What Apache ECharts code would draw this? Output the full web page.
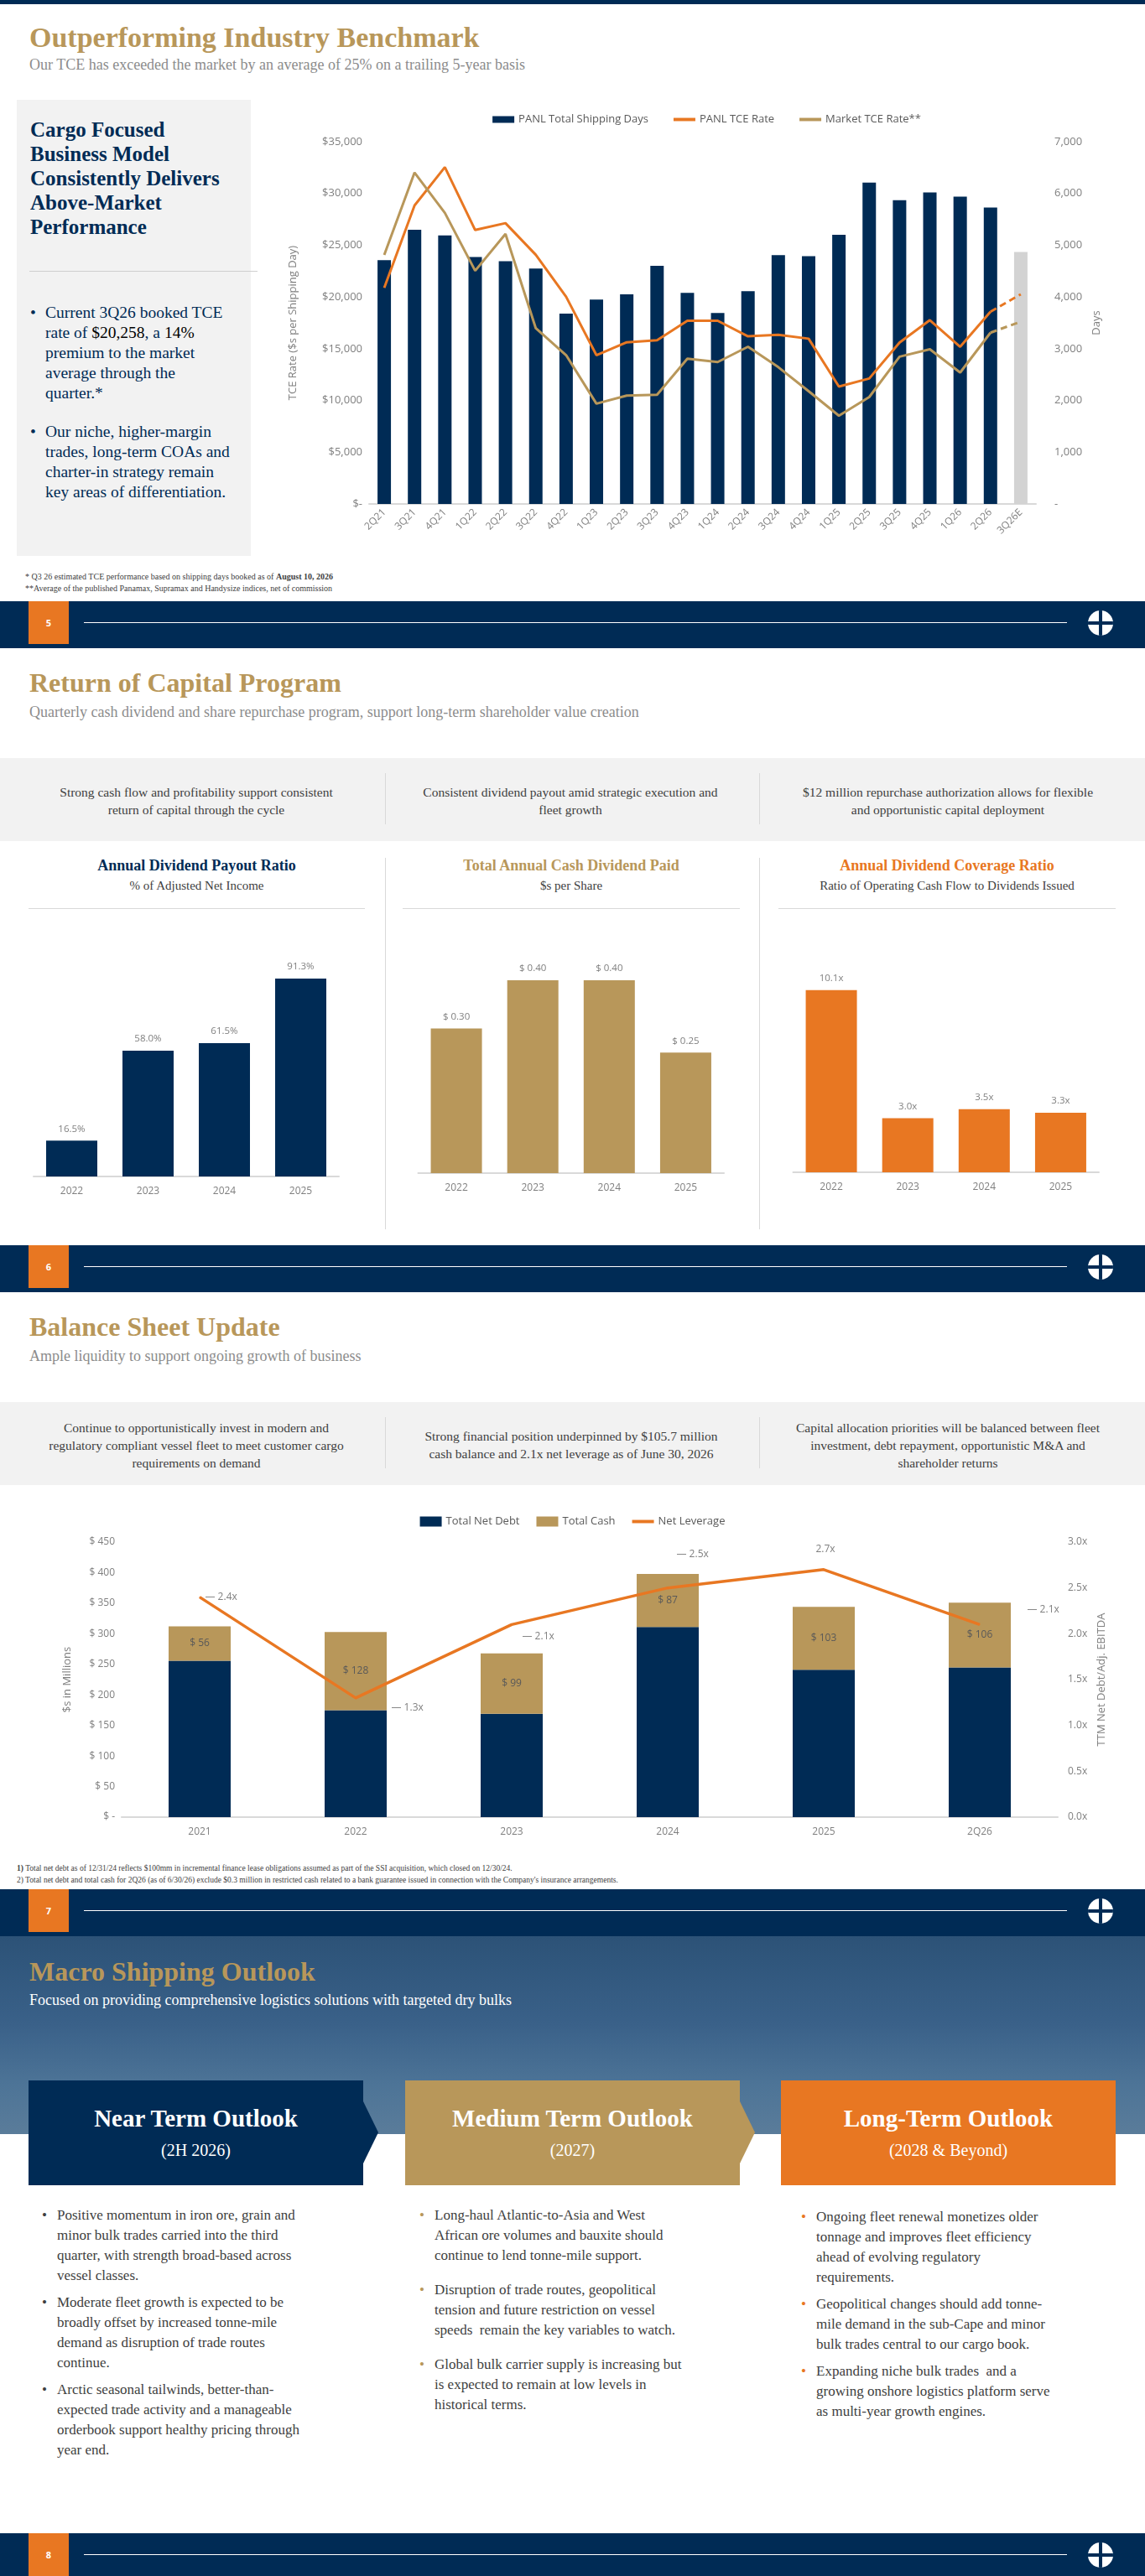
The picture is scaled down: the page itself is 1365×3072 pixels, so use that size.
<!DOCTYPE html>
<html><head><meta charset="utf-8">
<script src="https://cdn.jsdelivr.net/npm/echarts@6/dist/echarts.min.js"></script>
<style>
body{margin:0;background:#fff;}
#page{position:relative;width:1365px;height:3072px;overflow:hidden;font-family:"Liberation Serif",serif;}
.abs{position:absolute;}
.navy{background:#002b55;}
.title{position:absolute;left:35px;color:#b8975a;font-weight:bold;font-size:32px;line-height:36px;}
.sub{position:absolute;left:35px;color:#8c8c8c;font-size:18px;line-height:22px;}
.band{position:absolute;left:0;width:1365px;background:#f2f2f2;}
.bt{position:absolute;text-align:center;font-size:15.5px;line-height:21px;color:#404040;}
.vd{position:absolute;width:1px;background:#d9d9d9;}
.ct{position:absolute;text-align:center;font-weight:bold;font-size:18px;}
.cs{position:absolute;text-align:center;font-size:15px;color:#404040;}
.hl{position:absolute;height:1px;background:#d9d9d9;}
.foot{position:absolute;left:0;width:1365px;height:51px;background:#002b55;}
.foot .num{position:absolute;left:34px;top:0;width:48px;height:51px;background:#e87722;color:#fff;font:bold 11px "Open Sans",sans-serif;text-align:center;line-height:51px;}
.foot .ln{position:absolute;left:100px;top:25px;width:1172px;height:1px;background:#fff;}
.foot .logo{position:absolute;left:1297px;top:11px;width:30px;height:30px;border-radius:50%;background:#fff;overflow:hidden;}
.logo i{position:absolute;background:#002b55;}
.chart{position:absolute;}
.bul{position:absolute;font-size:17px;line-height:24px;color:#404040;}
.bul div{position:relative;padding-left:18px;}
.bul div:before{content:"•";position:absolute;left:0;}
.gold div:before{color:#b8975a;} .org div:before{color:#e87722;}
.box{position:absolute;top:2481px;height:125px;width:399px;color:#fff;text-align:center;}
.box .h{font-size:29px;font-weight:bold;margin-top:28px;line-height:34px;}
.box .s{font-size:20px;margin-top:10px;}
</style></head><body>
<div id="page">
<!-- slide 1 -->
<div class="abs navy" style="left:0;top:0;width:1365px;height:5px"></div>
<div class="title" style="top:27px;font-size:34px;">Outperforming Industry Benchmark</div>
<div class="sub" style="top:66px;">Our TCE has exceeded the market by an average of 25% on a trailing 5-year basis</div>
<div class="abs" style="left:20px;top:119px;width:279px;height:544px;background:#f2f2f2"></div>
<div class="abs" style="left:36px;top:140px;color:#002b55;font-weight:bold;font-size:25px;line-height:29px;">Cargo Focused<br>Business Model<br>Consistently Delivers<br>Above-Market<br>Performance</div>
<div class="hl" style="left:35px;top:323px;width:272px;background:#cfcfcf"></div>
<div class="bul" style="left:36px;top:361px;width:280px;font-size:19.5px;color:#002b55;">
<div>Current 3Q26 booked TCE<br>rate of <span style="color:#000">$20,258</span>, a <span style="color:#000">14%</span><br>premium to the market<br>average through the<br>quarter.*</div>
<div style="margin-top:22px">Our niche, higher-margin<br>trades, long-term COAs and<br>charter-in strategy remain<br>key areas of differentiation.</div>
</div>
<div class="abs" style="left:30px;top:681px;font-size:10px;line-height:14px;color:#404040">* Q3 26 estimated TCE performance based on shipping days booked as of <b>August 10, 2026</b><br>**Average of the published Panamax, Supramax and Handysize indices, net of commission</div>
<div id="c1" class="chart" style="left:320px;top:120px;width:1045px;height:560px"></div>
<div class="foot" style="top:717px"><div class="num">5</div><div class="ln"></div><div class="logo"><i style="left:13px;top:0;width:4px;height:30px"></i><i style="left:0;top:13px;width:30px;height:4px"></i></div></div>

<!-- slide 2 -->
<div class="abs navy" style="left:0;top:768px;width:1365px;height:5px"></div>
<div class="title" style="top:796px;">Return of Capital Program</div>
<div class="sub" style="top:838px;">Quarterly cash dividend and share repurchase program, support long-term shareholder value creation</div>
<div class="band" style="top:904px;height:99px"></div>
<div class="bt" style="left:44px;width:380px;top:934px">Strong cash flow and profitability support consistent<br>return of capital through the cycle</div>
<div class="bt" style="left:490px;width:380px;top:934px">Consistent dividend payout amid strategic execution and<br>fleet growth</div>
<div class="bt" style="left:935px;width:390px;top:934px">$12 million repurchase authorization allows for flexible<br>and opportunistic capital deployment</div>
<div class="vd" style="left:459px;top:922px;height:61px"></div><div class="vd" style="left:905px;top:922px;height:61px"></div>
<div class="vd" style="left:459px;top:1023px;height:443px"></div><div class="vd" style="left:905px;top:1023px;height:443px"></div>
<div class="ct" style="left:34px;width:401px;top:1022px;color:#002b55">Annual Dividend Payout Ratio</div>
<div class="ct" style="left:480px;width:402px;top:1022px;color:#b8975a">Total Annual Cash Dividend Paid</div>
<div class="ct" style="left:928px;width:402px;top:1022px;color:#e87722">Annual Dividend Coverage Ratio</div>
<div class="cs" style="left:34px;width:401px;top:1048px">% of Adjusted Net Income</div>
<div class="cs" style="left:480px;width:402px;top:1048px">$s per Share</div>
<div class="cs" style="left:928px;width:402px;top:1048px">Ratio of Operating Cash Flow to Dividends Issued</div>
<div class="hl" style="left:34px;width:401px;top:1083px"></div>
<div class="hl" style="left:480px;width:402px;top:1083px"></div>
<div class="hl" style="left:928px;width:402px;top:1083px"></div>
<div id="c2a" class="chart" style="left:0;top:1100px;width:459px;height:350px"></div>
<div id="c2b" class="chart" style="left:460px;top:1100px;width:445px;height:350px"></div>
<div id="c2c" class="chart" style="left:906px;top:1100px;width:459px;height:350px"></div>
<div class="foot" style="top:1485px"><div class="num">6</div><div class="ln"></div><div class="logo"><i style="left:13px;top:0;width:4px;height:30px"></i><i style="left:0;top:13px;width:30px;height:4px"></i></div></div>

<!-- slide 3 -->
<div class="abs navy" style="left:0;top:1536px;width:1365px;height:5px"></div>
<div class="title" style="top:1564px;">Balance Sheet Update</div>
<div class="sub" style="top:1606px;">Ample liquidity to support ongoing growth of business</div>
<div class="band" style="top:1672px;height:99px"></div>
<div class="bt" style="left:34px;width:400px;top:1692px">Continue to opportunistically invest in modern and<br>regulatory compliant vessel fleet to meet customer cargo<br>requirements on demand</div>
<div class="bt" style="left:480px;width:402px;top:1702px">Strong financial position underpinned by $105.7 million<br>cash balance and 2.1x net leverage as of June 30, 2026</div>
<div class="bt" style="left:920px;width:420px;top:1692px">Capital allocation priorities will be balanced between fleet<br>investment, debt repayment, opportunistic M&amp;A and<br>shareholder returns</div>
<div class="vd" style="left:459px;top:1690px;height:61px"></div><div class="vd" style="left:905px;top:1690px;height:61px"></div>
<div id="c3" class="chart" style="left:0;top:1790px;width:1365px;height:420px"></div>
<div class="abs" style="left:20px;top:2221px;font-size:9.5px;line-height:14px;color:#404040"><b>1)</b> Total net debt as of 12/31/24 reflects $100mm in incremental finance lease obligations assumed as part of the SSI acquisition, which closed on 12/30/24.<br>2) Total net debt and total cash for 2Q26 (as of 6/30/26) exclude $0.3 million in restricted cash related to a bank guarantee issued in connection with the Company's insurance arrangements.</div>
<div class="foot" style="top:2253px"><div class="num">7</div><div class="ln"></div><div class="logo"><i style="left:13px;top:0;width:4px;height:30px"></i><i style="left:0;top:13px;width:30px;height:4px"></i></div></div>

<!-- slide 4 -->
<div class="abs navy" style="left:0;top:2304px;width:1365px;height:5px"></div>
<div class="abs" style="left:0;top:2309px;width:1365px;height:236px;background:linear-gradient(180deg,#2c5277 0%,#3a6189 45%,#4d7497 75%,#5a7c9a 100%)"></div>
<div class="title" style="top:2333px;">Macro Shipping Outlook</div>
<div class="sub" style="top:2374px;color:#fff;">Focused on providing comprehensive logistics solutions with targeted dry bulks</div>
<div class="box" style="left:34px;background:#002b55"><div class="h">Near Term Outlook</div><div class="s">(2H 2026)</div></div>
<div class="abs" style="left:433px;top:2506px;width:0;height:0;border-top:37px solid transparent;border-bottom:37px solid transparent;border-left:18px solid #002b55"></div>
<div class="box" style="left:483px;background:#b8975a"><div class="h">Medium Term Outlook</div><div class="s">(2027)</div></div>
<div class="abs" style="left:882px;top:2506px;width:0;height:0;border-top:37px solid transparent;border-bottom:37px solid transparent;border-left:18px solid #b8975a"></div>
<div class="box" style="left:931px;background:#e87722"><div class="h">Long-Term Outlook</div><div class="s">(2028 &amp; Beyond)</div></div>
<div class="bul" style="left:50px;top:2630px;width:370px">
<div>Positive momentum in iron ore, grain and<br>minor bulk trades carried into the third<br>quarter, with strength broad-based across<br>vessel classes.</div>
<div style="margin-top:8px">Moderate fleet growth is expected to be<br>broadly offset by increased tonne-mile<br>demand as disruption of trade routes<br>continue.</div>
<div style="margin-top:8px">Arctic seasonal tailwinds, better-than-<br>expected trade activity and a manageable<br>orderbook support healthy pricing through<br>year end.</div>
</div>
<div class="bul gold" style="left:500px;top:2630px;width:390px">
<div>Long-haul Atlantic-to-Asia and West<br>African ore volumes and bauxite should<br>continue to lend tonne-mile support.</div>
<div style="margin-top:17px">Disruption of trade routes, geopolitical<br>tension and future restriction on vessel<br>speeds&nbsp; remain the key variables to watch.</div>
<div style="margin-top:17px">Global bulk carrier supply is increasing but<br>is expected to remain at low levels in<br>historical terms.</div>
</div>
<div class="bul org" style="left:955px;top:2632px;width:390px">
<div>Ongoing fleet renewal monetizes older<br>tonnage and improves fleet efficiency<br>ahead of evolving regulatory<br>requirements.</div>
<div style="margin-top:8px">Geopolitical changes should add tonne-<br>mile demand in the sub-Cape and minor<br>bulk trades central to our cargo book.</div>
<div style="margin-top:8px">Expanding niche bulk trades&nbsp; and a<br>growing onshore logistics platform serve<br>as multi-year growth engines.</div>
</div>
<div class="foot" style="top:3021px"><div class="num">8</div><div class="ln"></div><div class="logo"><i style="left:13px;top:0;width:4px;height:30px"></i><i style="left:0;top:13px;width:30px;height:4px"></i></div></div>
</div>

<script>
// ---- Data ----
const quarters = ['2Q21','3Q21','4Q21','1Q22','2Q22','3Q22','4Q22','1Q23','2Q23','3Q23','4Q23','1Q24','2Q24','3Q24','4Q24','1Q25','2Q25','3Q25','4Q25','1Q26','2Q26','3Q26E'];
const shippingDays = [4710,5300,5190,4770,4690,4550,3680,3950,4050,4600,4080,3690,4110,4810,4790,5200,6210,5870,6020,5940,5730,4870];
const panlTCE = [20880,28840,32540,26470,27130,24070,20020,14380,15620,15820,17700,17700,16200,16340,15970,11340,12120,15590,17760,15190,18570,20258];
const marketTCE = [24070,32020,28120,22530,26090,16980,14380,9690,10470,10560,14030,13710,15190,13220,10900,8530,10330,14230,14950,12700,16550,17620];

const divYears = ['2022','2023','2024','2025'];
const payoutRatio = [16.5,58.0,61.5,91.3];
const dividendPaid = [0.30,0.40,0.40,0.25];
const coverageRatio = [10.1,3.0,3.5,3.3];

const bsYears = ['2021','2022','2023','2024','2025','2Q26'];
const netDebt = [256,175,169,311,241,245];
const totalCash = [56,128,99,87,103,106];
const netLeverage = [2.4,1.3,2.1,2.5,2.7,2.1];

const NAVY='#002b55', GOLD='#b8975a', ORANGE='#e87722', GRAYTXT='#7f7f7f';
const FF='"Open Sans", sans-serif';
const LINEICON='path://M0,0H20V3H0Z';

// ---- Chart 1 ----
const n=quarters.length;
const solid=(a)=>a.map((v,i)=>i<n-1?v:null);
const dash=(a)=>a.map((v,i)=>i>=n-2?v:null);
echarts.init(document.getElementById('c1')).setOption({
  animation:false,textStyle:{fontFamily:FF},
  legend:{top:11,left:'center',itemWidth:26,itemHeight:8,itemGap:30,textStyle:{color:'#595959',fontSize:13,fontFamily:FF},
    data:[{name:'PANL Total Shipping Days',icon:'rect'},{name:'PANL TCE Rate',icon:LINEICON,itemHeight:4},{name:'Market TCE Rate**',icon:LINEICON,itemHeight:4}]},
  grid:{left:120,right:130,top:49,bottom:79},
  xAxis:{type:'category',data:quarters,axisTick:{show:false},axisLine:{lineStyle:{color:'#d9d9d9',width:2}},
    axisLabel:{rotate:45,color:GRAYTXT,fontSize:12,margin:8,interval:0}},
  yAxis:[{type:'value',min:0,max:35000,interval:5000,splitLine:{show:false},name:'TCE Rate ($s per Shipping Day)',nameLocation:'middle',nameGap:84,nameTextStyle:{color:GRAYTXT,fontSize:13},
    axisLabel:{color:GRAYTXT,fontSize:13,formatter:v=>v===0?'$-':'$'+v.toLocaleString('en-US')}},
    {type:'value',min:0,max:7000,interval:1000,splitLine:{show:false},name:'Days',nameLocation:'middle',nameGap:64,nameTextStyle:{color:GRAYTXT,fontSize:13},
    axisLabel:{color:GRAYTXT,fontSize:13,margin:22,formatter:v=>v===0?'-':v.toLocaleString('en-US')}}],
  series:[
    {name:'PANL Total Shipping Days',type:'bar',yAxisIndex:1,barWidth:16,data:shippingDays.map((v,i)=>i===n-1?{value:v,itemStyle:{color:'#d3d3d3'}}:v),itemStyle:{color:NAVY}},
    {name:'PANL TCE Rate',type:'line',data:solid(panlTCE),symbol:'none',lineStyle:{color:ORANGE,width:3},itemStyle:{color:ORANGE}},
    {name:'Market TCE Rate**',type:'line',data:solid(marketTCE),symbol:'none',lineStyle:{color:GOLD,width:3},itemStyle:{color:GOLD}},
    {name:'pd',type:'line',data:dash(panlTCE),symbol:'none',lineStyle:{color:ORANGE,width:3,type:[8,5]}},
    {name:'md',type:'line',data:dash(marketTCE),symbol:'none',lineStyle:{color:GOLD,width:3,type:[8,5]}}
  ]
});

// ---- Slide 2 charts ----
function small(id,left,right,top,bottom,max,data,color,fmt){
  echarts.init(document.getElementById(id)).setOption({
    animation:false,textStyle:{fontFamily:FF},
    grid:{left,right,top,bottom},
    xAxis:{type:'category',data:divYears,axisTick:{show:false},axisLine:{lineStyle:{color:'#d9d9d9',width:2}},axisLabel:{color:GRAYTXT,fontSize:12,margin:12}},
    yAxis:{type:'value',min:0,max,show:false},
    series:[{type:'bar',data,barWidth:61,itemStyle:{color},label:{show:true,position:'top',distance:8,color:GRAYTXT,fontSize:11.5,formatter:p=>fmt(p.value)}}]
  });
}
small('c2a',40,55,44.5,47,100,payoutRatio,NAVY,v=>v.toFixed(1)+'%');
small('c2b',38.5,42,69,51,0.4,dividendPaid,GOLD,v=>'$ '+v.toFixed(2));
small('c2c',39.5,55,40,52,12,coverageRatio,ORANGE,v=>v.toFixed(1)+'x');

// ---- Chart 3 ----
const levLabel=[
  {position:'right',offset:[0,0]},
  {position:'right',offset:[36,12]},
  {position:'right',offset:[6,14]},
  {position:'right',offset:[4,-40]},
  {position:'top',offset:[2,-12]},
  {position:'right',offset:[50,-18]}
];
echarts.init(document.getElementById('c3')).setOption({
  animation:false,textStyle:{fontFamily:FF},
  legend:{top:13,left:'center',itemWidth:26,itemHeight:12,itemGap:20,textStyle:{color:'#595959',fontSize:13},
    data:[{name:'Total Net Debt',icon:'rect'},{name:'Total Cash',icon:'rect'},{name:'Net Leverage',icon:LINEICON,itemHeight:4}]},
  grid:{left:145,right:104,top:49,bottom:43},
  xAxis:{type:'category',data:bsYears,axisTick:{show:false},axisLine:{lineStyle:{color:'#d9d9d9',width:2}},axisLabel:{color:GRAYTXT,fontSize:12,margin:12}},
  yAxis:[{type:'value',min:0,max:450,interval:50,splitLine:{show:false},name:'$s in Millions',nameLocation:'middle',nameGap:58,nameTextStyle:{color:GRAYTXT,fontSize:13},
    axisLabel:{color:GRAYTXT,fontSize:12,formatter:v=>v===0?'$ -':'$ '+v}},
    {type:'value',min:0,max:3,interval:0.5,splitLine:{show:false},name:'TTM Net Debt/Adj. EBITDA',nameLocation:'middle',nameGap:45,nameTextStyle:{color:GRAYTXT,fontSize:13},
    axisLabel:{color:GRAYTXT,fontSize:12,margin:12,formatter:v=>v.toFixed(1)+'x'}}],
  series:[
    {name:'Total Net Debt',type:'bar',stack:'a',barWidth:74,data:netDebt,itemStyle:{color:NAVY}},
    {name:'Total Cash',type:'bar',stack:'a',data:totalCash,itemStyle:{color:GOLD},label:{show:true,position:'inside',color:'#595959',fontSize:12,formatter:p=>'$ '+p.value}},
    {name:'Net Leverage',type:'line',yAxisIndex:1,data:netLeverage.map((v,i)=>({value:v,label:levLabel[i]})),symbol:'circle',symbolSize:1,showSymbol:true,lineStyle:{color:ORANGE,width:3.5},itemStyle:{color:ORANGE},
     label:{show:true,color:'#7f7f7f',fontSize:12,formatter:p=>(p.dataIndex===4?'':'— ')+p.value.toFixed(1)+'x',distance:6}}
  ]
});
</script>
</body></html>
